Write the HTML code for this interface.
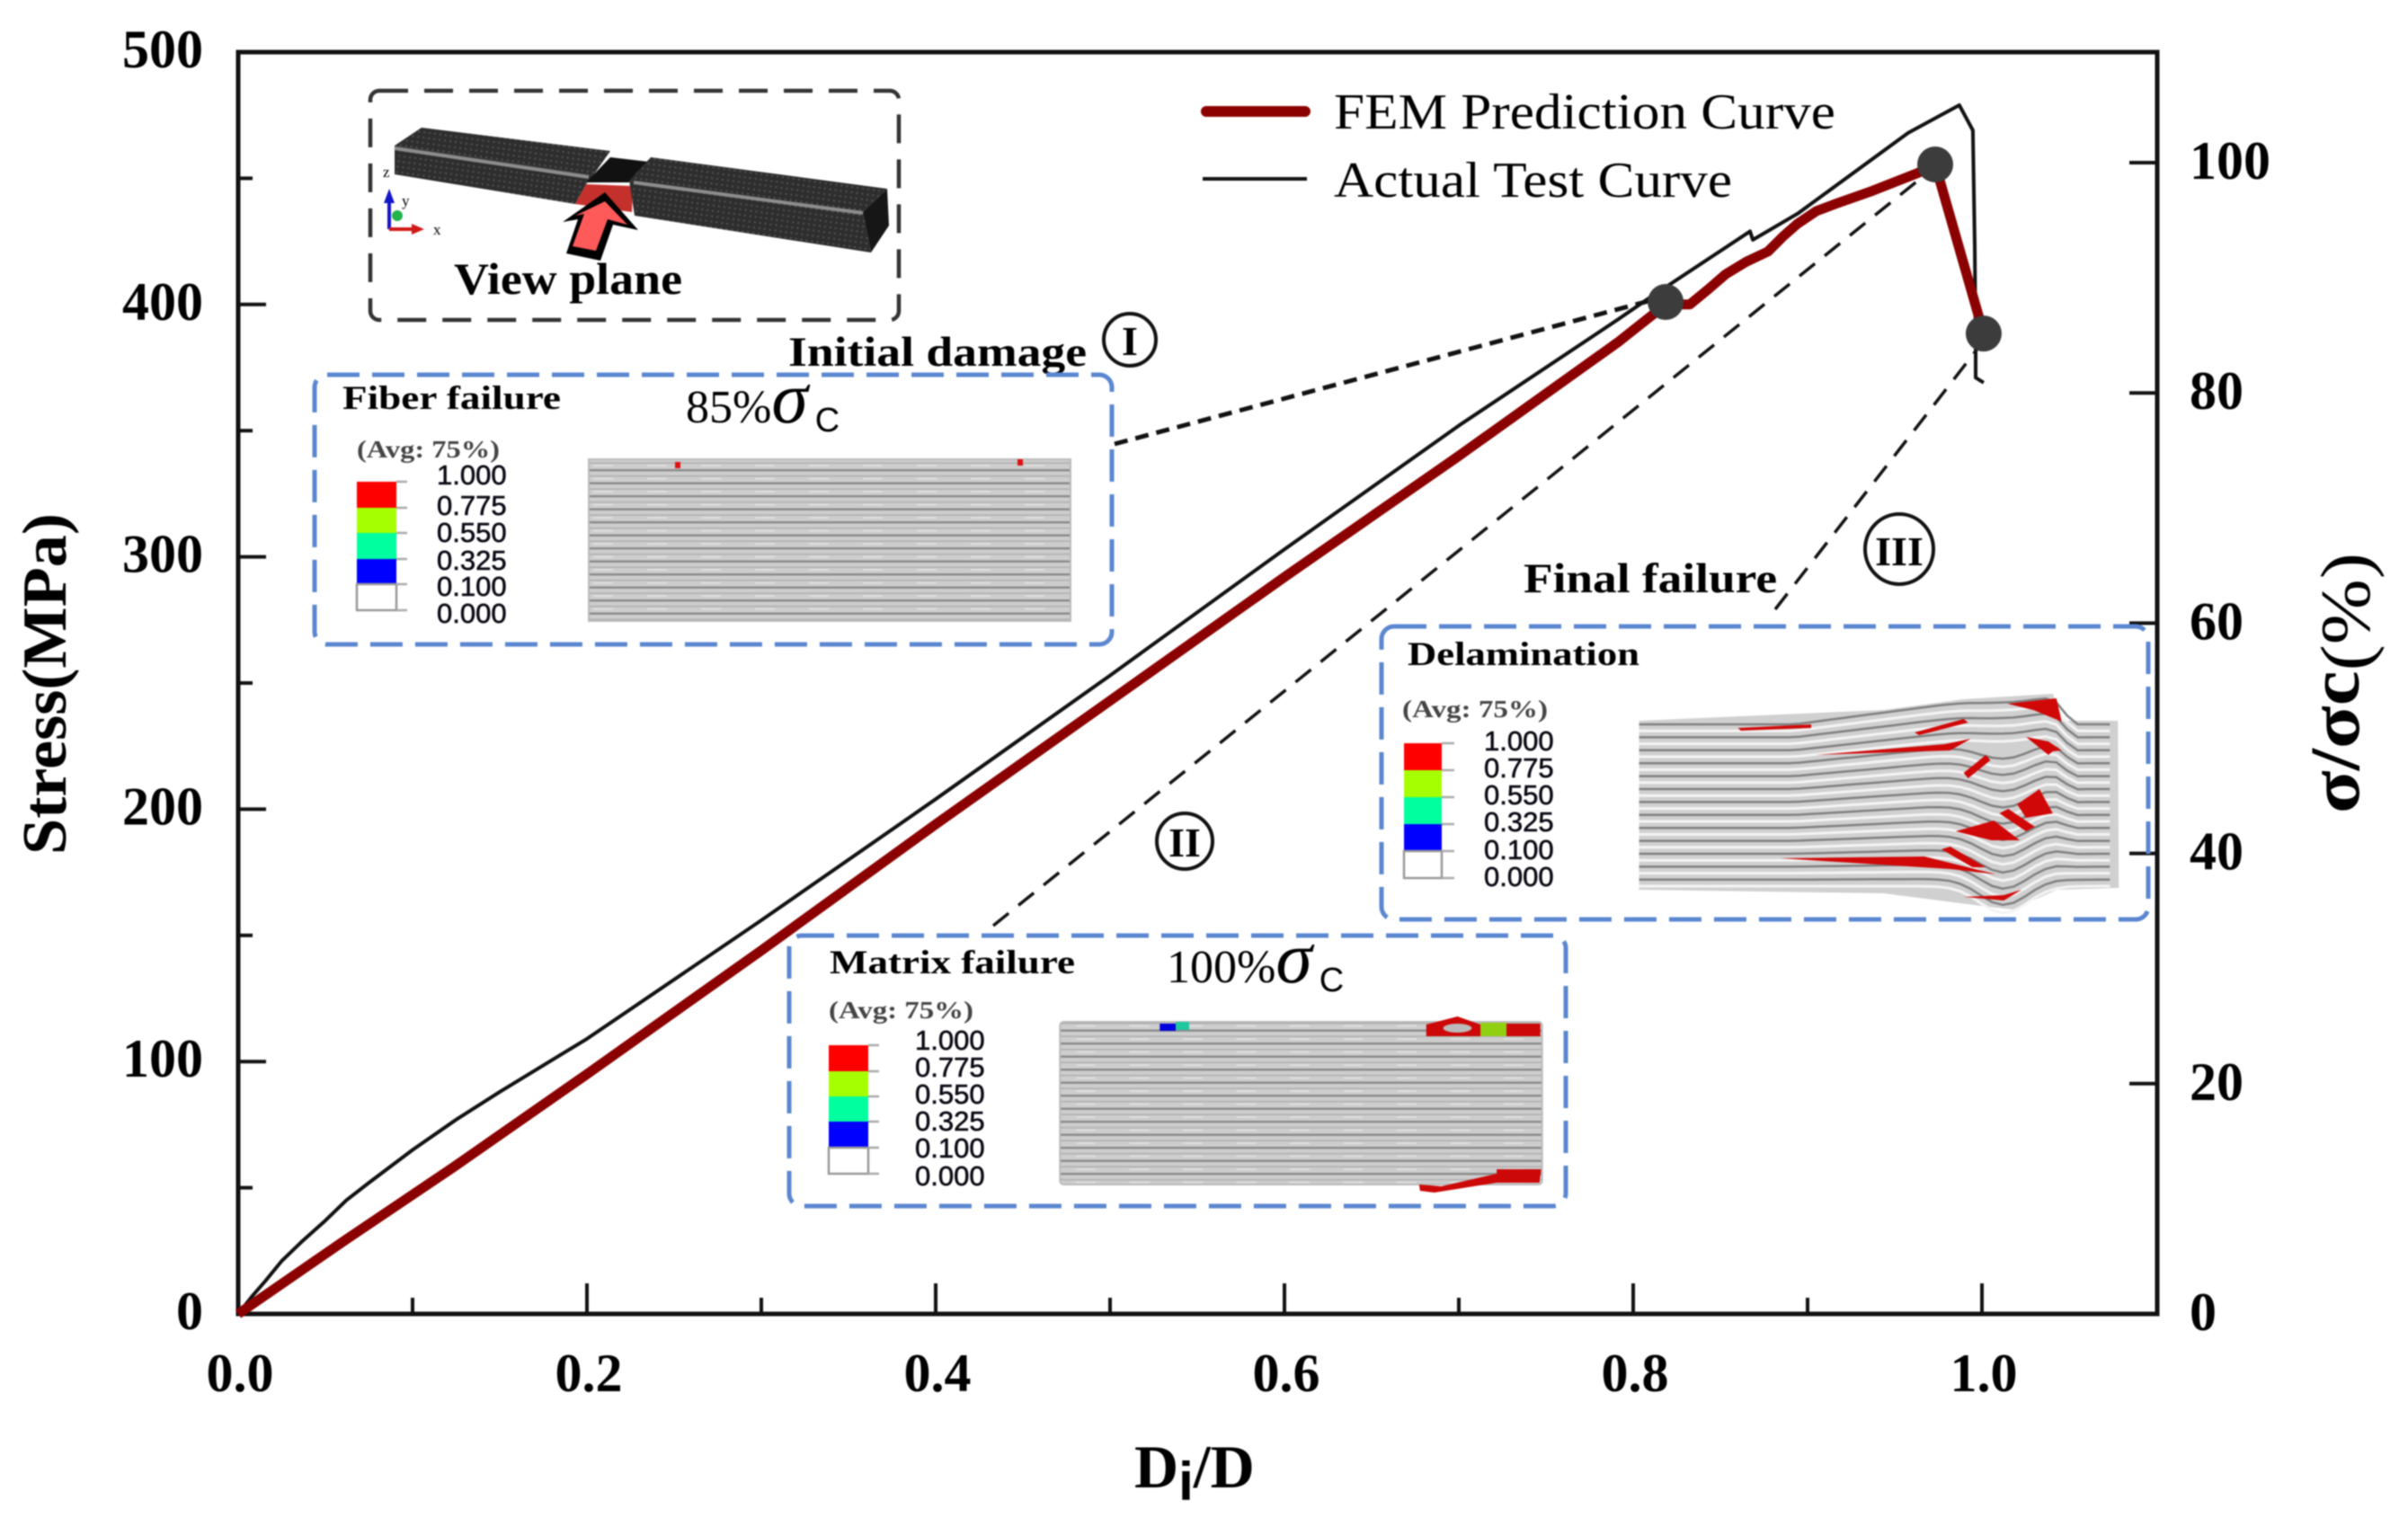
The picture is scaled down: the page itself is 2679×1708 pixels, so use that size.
<!DOCTYPE html>
<html lang="en">
<head>
<meta charset="utf-8">
<title>Stress vs Di/D chart</title>
<style>
html,body{margin:0;padding:0;background:#fff;width:2679px;height:1708px;overflow:hidden}
svg{display:block;filter:blur(0.7px)}
text{font-family:"Liberation Serif",serif;fill:#000}
.tl{font-weight:bold;font-size:60px}
.cap{font-weight:bold}
.sans{font-family:"Liberation Sans",sans-serif}
.num{font-family:"Liberation Sans",sans-serif;font-size:31px;fill:#0a0a14;stroke:#0a0a14;stroke-width:.6}
.avg{font-weight:bold;font-size:27px;fill:#444}
.box{fill:none;stroke:#5b86d0;stroke-width:5;stroke-dasharray:36 14}
.lead{fill:none;stroke:#111;stroke-width:3.5;stroke-dasharray:22 14}
</style>
</head>
<body>
<svg id="chart" xmlns="http://www.w3.org/2000/svg" width="2679" height="1708" viewBox="0 0 2679 1708">
<defs>
<pattern id="ply" patternUnits="userSpaceOnUse" width="60" height="14.5">
<rect width="60" height="14.5" fill="#cdcdcd"/>
<rect y="0" width="60" height="2.4" fill="#8a8a8a"/>
<rect y="7" width="60" height="1.4" fill="#adadad"/>
<rect y="10" width="22" height="1.2" fill="#e6e6e6"/>
</pattern>
<pattern id="mesh" patternUnits="userSpaceOnUse" width="6" height="6" patternTransform="rotate(8)">
<rect width="6" height="6" fill="#2e2e2e"/>
<circle cx="2" cy="2" r="1" fill="#5c5c5c"/>
</pattern>
</defs>
<rect width="2679" height="1708" fill="#fff"/>

<!-- view plane inset -->
<g>
<rect x="412" y="101" width="588" height="255" rx="10" fill="none" stroke="#333" stroke-width="4.5" stroke-dasharray="32 18"/>
<polygon points="439,162 469,142 679,168 660,195" fill="url(#mesh)"/>
<polygon points="439,162 660,195 652,205 640,227 439,194" fill="url(#mesh)"/>
<polygon points="679,175 722,180 700,203 652,203" fill="#111"/>
<polygon points="652,205 704,207 703,236 640,227" fill="#c4302c"/>
<polygon points="724,175 987,210 960,236 700,201" fill="url(#mesh)"/>
<polygon points="700,201 960,236 969,281 706,240" fill="url(#mesh)"/>
<polygon points="987,210 989,251 969,281 960,236" fill="#161616"/>
<line x1="439" y1="165" x2="655" y2="197" stroke="#8d8d8d" stroke-width="4"/>
<line x1="705" y1="203" x2="960" y2="237" stroke="#8d8d8d" stroke-width="4"/>
<polygon points="673,214 710,256 682,250 668,290 630,282 643,244 626,247" fill="#000"/>
<polygon points="673,224 698,250 676,244 663,279 637,274 650,238 640,240" fill="#ff5a5a"/>
<line x1="433" y1="255" x2="433" y2="222" stroke="#1414c8" stroke-width="4"/>
<polygon points="433,210 427,226 439,226" fill="#1414c8"/>
<line x1="433" y1="255" x2="462" y2="255" stroke="#d01818" stroke-width="4"/>
<polygon points="472,255 458,249 458,261" fill="#d01818"/>
<circle cx="442" cy="240" r="6" fill="#22b34c"/>
<text x="426" y="197" font-size="17" fill="#333">z</text>
<text x="447" y="229" font-size="17" fill="#333">y</text>
<text x="482" y="261" font-size="17" fill="#333">x</text>
<text class="cap" x="505" y="327" font-size="50" textLength="254" lengthAdjust="spacingAndGlyphs">View plane</text>
</g>

<!-- leader lines -->
<path class="lead" d="M1240,494 L1834,335" style="stroke-width:5;stroke-dasharray:15 9"/>
<path class="lead" d="M1105,1030 L2135,200"/>
<path class="lead" d="M1975,678 L2204,383"/>

<g id="axes"></g>
<g id="series"></g>

<!-- legend -->
<g>
<line x1="1342" y1="124" x2="1452" y2="124" stroke="#8b0000" stroke-width="12" stroke-linecap="round"/>
<text x="1484" y="143" font-size="56" textLength="558" lengthAdjust="spacingAndGlyphs">FEM Prediction Curve</text>
<line x1="1338" y1="199" x2="1454" y2="199" stroke="#111" stroke-width="4"/>
<text x="1484" y="219" font-size="56" textLength="443" lengthAdjust="spacingAndGlyphs">Actual Test Curve</text>
</g>

<!-- stage annotations -->
<text class="cap" x="877" y="407" font-size="47" textLength="332" lengthAdjust="spacingAndGlyphs">Initial damage</text>
<g>
<circle cx="1257" cy="378" r="29" fill="none" stroke="#111" stroke-width="4"/>
<text x="1257" y="395" font-size="46" text-anchor="middle" class="cap">I</text>
</g>
<text class="cap" x="1695" y="659" font-size="47" textLength="282" lengthAdjust="spacingAndGlyphs">Final failure</text>
<g>
<ellipse cx="2113" cy="611" rx="38" ry="39" fill="none" stroke="#111" stroke-width="4"/>
<text x="2113" y="629" font-size="46" text-anchor="middle" class="cap">III</text>
</g>
<g>
<circle cx="1318" cy="936" r="31" fill="none" stroke="#111" stroke-width="4"/>
<text x="1318" y="953" font-size="46" text-anchor="middle" class="cap">II</text>
</g>

<!-- fiber failure inset -->
<g>
<rect class="box" x="350" y="417" width="887" height="300" rx="14"/>
<text class="cap" x="381" y="455" font-size="37" textLength="243" lengthAdjust="spacingAndGlyphs">Fiber failure</text>
<text x="763" y="470" font-size="52">85%<tspan font-style="italic" font-size="82">σ</tspan><tspan class="sans" font-size="38" dx="8" dy="10">C</tspan></text>
<text class="avg" x="397" y="509" textLength="159" lengthAdjust="spacingAndGlyphs">(Avg: 75%)</text>
<g>
<rect x="397" y="536" width="44" height="29" fill="#ff0000"/><rect x="397" y="565" width="44" height="28" fill="#a6ff00"/><rect x="397" y="593" width="44" height="29" fill="#00ff9f"/><rect x="397" y="622" width="44" height="28" fill="#0000ff"/><rect x="397" y="650" width="44" height="29" fill="#fff" stroke="#999" stroke-width="2.5"/>
<path d="M441,536h12M441,565h12M441,593h12M441,622h12M441,650h12M441,679h12" stroke="#aaa" stroke-width="2.5"/>
<text class="num" x="486" y="539">1.000</text><text class="num" x="486" y="573">0.775</text><text class="num" x="486" y="603">0.550</text><text class="num" x="486" y="634">0.325</text><text class="num" x="486" y="663">0.100</text><text class="num" x="486" y="693">0.000</text>
</g>
<rect x="655" y="511" width="536" height="180" fill="url(#ply)" stroke="#bbb" stroke-width="2"/>
<rect x="751" y="514" width="6" height="7" fill="#e01010"/>
<rect x="1132" y="511" width="6" height="7" fill="#e01010"/>
</g>

<!-- matrix failure inset -->
<g>
<rect class="box" x="878" y="1041" width="864" height="301" rx="14"/>
<text class="cap" x="923" y="1083" font-size="37" textLength="273" lengthAdjust="spacingAndGlyphs">Matrix failure</text>
<text x="1298" y="1093" font-size="52">100%<tspan font-style="italic" font-size="82">σ</tspan><tspan class="sans" font-size="38" dx="8" dy="10">C</tspan></text>
<text class="avg" x="922" y="1133" textLength="161" lengthAdjust="spacingAndGlyphs">(Avg: 75%)</text>
<g>
<rect x="922" y="1163" width="44" height="29" fill="#ff0000"/><rect x="922" y="1192" width="44" height="28" fill="#a6ff00"/><rect x="922" y="1220" width="44" height="28" fill="#00ff9f"/><rect x="922" y="1248" width="44" height="29" fill="#0000ff"/><rect x="922" y="1277" width="44" height="29" fill="#fff" stroke="#999" stroke-width="2.5"/>
<path d="M966,1163h12M966,1192h12M966,1220h12M966,1248h12M966,1277h12M966,1306h12" stroke="#aaa" stroke-width="2.5"/>
<text class="num" x="1018" y="1168">1.000</text><text class="num" x="1018" y="1198">0.775</text><text class="num" x="1018" y="1228">0.550</text><text class="num" x="1018" y="1258">0.325</text><text class="num" x="1018" y="1288">0.100</text><text class="num" x="1018" y="1319">0.000</text>
</g>
<g transform="translate(860 0) scale(.9915 1) translate(-860 0)">
<rect x="1182" y="1137" width="541" height="181" rx="4" fill="url(#ply)" stroke="#bbb" stroke-width="2"/>
<rect x="1294" y="1139" width="18" height="8" fill="#0000e0"/>
<rect x="1312" y="1137" width="15" height="9" fill="#20c8a0"/>
<polygon points="1593,1140 1628,1131 1654,1140 1654,1153 1593,1153" fill="#cc0808"/>
<ellipse cx="1628" cy="1144" rx="16" ry="5" fill="#bbb"/>
<rect x="1654" y="1138" width="29" height="15" fill="#90d010"/>
<rect x="1683" y="1139" width="38" height="14" fill="#cc0808"/>
<polygon points="1585,1318 1610,1320 1672,1306 1672,1301 1722,1301 1720,1316 1672,1316 1602,1327 1586,1325" fill="#cc0808"/>
</g>
</g>

<!-- delamination inset -->
<g>
<rect class="box" x="1537" y="697" width="853" height="326" rx="14"/>
<text class="cap" x="1566" y="740" font-size="37" textLength="258" lengthAdjust="spacingAndGlyphs">Delamination</text>
<text class="avg" x="1560" y="798" textLength="162" lengthAdjust="spacingAndGlyphs">(Avg: 75%)</text>
<g>
<rect x="1562" y="827" width="42" height="30" fill="#ff0000"/><rect x="1562" y="857" width="42" height="30" fill="#a6ff00"/><rect x="1562" y="887" width="42" height="30" fill="#00ff9f"/><rect x="1562" y="917" width="42" height="30" fill="#0000ff"/><rect x="1562" y="947" width="42" height="30" fill="#fff" stroke="#999" stroke-width="2.5"/>
<path d="M1604,827h14M1604,857h14M1604,887h14M1604,917h14M1604,947h14M1604,977h14" stroke="#aaa" stroke-width="2.5"/>
<text class="num" x="1651" y="835">1.000</text><text class="num" x="1651" y="865">0.775</text><text class="num" x="1651" y="895">0.550</text><text class="num" x="1651" y="925">0.325</text><text class="num" x="1651" y="956">0.100</text><text class="num" x="1651" y="986">0.000</text>
</g>
<g transform="translate(1520 0) scale(.992 1) translate(-1520 0)">
<path d="M1826,802 L2100,790 L2190,778 L2290,772 L2300,802 L2363,802 L2364,988 L2295,990 L2245,1012 L2210,1008 L2100,994 L1826,990 Z" fill="#d0d0d0"/>
<g id="delam-plies"></g>
<g fill="#d00808">
<polygon points="2239,783 2294,777 2300,803 2268,790"/>
<polygon points="2024,840 2169,828 2198,822 2175,835"/>
<polygon points="1984,955 2146,953 2227,973 2245,975 2175,967"/>
<polygon points="2181,925 2224,913 2253,935 2221,935"/>
<polygon points="1937,810 2019,806 2019,810 1940,813"/>
<polygon points="2135,815 2190,800 2195,804 2140,818"/>
<polygon points="2260,820 2285,840 2290,836 2300,835 2285,825"/>
<polygon points="2190,860 2215,840 2220,846 2195,866"/>
<polygon points="2250,895 2275,878 2290,905 2260,910"/>
<polygon points="2230,905 2260,925 2270,920 2240,900"/>
<polygon points="2165,945 2200,965 2215,965 2175,942"/>
<polygon points="2190,998 2235,1002 2255,990 2235,996"/>
</g>
</g>
</g>
</svg>
<script>
/* chart data */
var xTickValues = [0, 0.2, 0.4, 0.6, 0.8, 1.0];
var xMinorValues = [0.1, 0.3, 0.5, 0.7, 0.9];
var xTickLabels = ["0.0", "0.2", "0.4", "0.6", "0.8", "1.0"];
var stressTicks = [0, 100, 200, 300, 400, 500];
var stressMinor = [50, 150, 250, 350, 450];
var percentTicks = [0, 20, 40, 60, 80, 100];
var femX = [0, 0.0608, 0.1232, 0.2, 0.3, 0.4, 0.5, 0.6, 0.7, 0.7912, 0.8186, 0.8325, 0.843, 0.8531, 0.865, 0.8773, 0.886, 0.8943, 0.905, 0.9165, 0.9371, 0.9629, 0.9732, 1.001];
var femStress = [0, 29, 58, 95, 144, 194, 243, 292, 340, 385, 400, 400, 406, 412, 417, 421, 427, 432, 437, 440, 445, 452, 455.5, 388.5];
var testX = [0, 0.008, 0.0155, 0.025, 0.037, 0.05, 0.062, 0.075, 0.1, 0.125, 0.15, 0.2, 0.3, 0.4, 0.5, 0.6, 0.7, 0.7912, 0.808, 0.867, 0.8686, 0.8943, 0.9577, 0.987, 0.9948, 0.9959, 0.9964, 0.9964, 1.001];
var testStress = [0, 7, 13, 21, 29, 37, 45, 52, 65, 77, 88, 109, 156, 204, 253, 303, 352, 394, 402, 429, 425.6, 436, 468, 479, 469, 423, 382, 371, 369];
var stageX = [0.8186, 0.9732, 1.001];
var stageStress = [401, 455.5, 388.5];

var NS = "http://www.w3.org/2000/svg";
var plotLeft = 265, plotRight = 2400, plotTop = 58, plotBottom = 1462;
function xPos(v) { return plotLeft + v * 1940; }
function yStress(v) { return plotBottom - v * 2.808; }
function yPercent(v) { return plotBottom - v * 12.81; }
function mk(tag, attrs, parent) {
  var e = document.createElementNS(NS, tag);
  for (var k in attrs) e.setAttribute(k, attrs[k]);
  parent.appendChild(e);
  return e;
}
var axes = document.getElementById("axes");
var series = document.getElementById("series");

var frame = mk("rect", {x: plotLeft, y: plotTop, width: plotRight - plotLeft, height: plotBottom - plotTop, fill: "none", stroke: "#111", "stroke-width": 5}, axes);



xTickValues.forEach(function (v, i) {
  var t = mk("line", {x1: xPos(v), x2: xPos(v), y1: plotBottom, y2: plotBottom - 34, stroke: "#111", "stroke-width": 4}, axes);
  
  
  var l = mk("text", {x: xPos(v) + 2, y: 1548, "text-anchor": "middle", "class": "tl"}, axes);
  l.textContent = xTickLabels[i];
  
  
});
xMinorValues.forEach(function (v) {
  var t = mk("line", {x1: xPos(v), x2: xPos(v), y1: plotBottom, y2: plotBottom - 18, stroke: "#111", "stroke-width": 4}, axes);
  
  
});
stressTicks.forEach(function (v) {
  var y = yStress(v);
  var t = mk("line", {x1: plotLeft, x2: plotLeft + 31, y1: y, y2: y, stroke: "#111", "stroke-width": 4}, axes);
  
  
  var l = mk("text", {x: 226, y: y + 17, "text-anchor": "end", "class": "tl"}, axes);
  l.textContent = String(v);
  
  
});
stressMinor.forEach(function (v) {
  var y = yStress(v);
  var t = mk("line", {x1: plotLeft, x2: plotLeft + 16, y1: y, y2: y, stroke: "#111", "stroke-width": 4}, axes);
  
  
});
percentTicks.forEach(function (v) {
  var y = yPercent(v);
  var t = mk("line", {x1: plotRight, x2: plotRight - 31, y1: y, y2: y, stroke: "#111", "stroke-width": 4}, axes);
  
  
  var l = mk("text", {x: 2436, y: y + 18, "class": "tl"}, axes);
  l.textContent = String(v);
  
  
});

var yTitle = mk("text", {transform: "translate(73,761) rotate(-90)", "text-anchor": "middle", "font-size": 70, "font-weight": "bold", textLength: 380, lengthAdjust: "spacingAndGlyphs"}, axes);
yTitle.textContent = "Stress(MPa)";



var rTitle = mk("text", {transform: "translate(2624,905) rotate(-90)", "font-size": 78, "font-weight": "bold", textLength: 290, lengthAdjust: "spacingAndGlyphs"}, axes);
rTitle.innerHTML = 'σ/σc<tspan dy="12" font-weight="normal">(%)</tspan>';



var xTitle = mk("text", {x: 1262, y: 1655, "font-size": 68, "font-weight": "bold"}, axes);


xTitle.innerHTML = 'D<tspan dy="14" font-size="60" font-family="Liberation Sans">i</tspan><tspan dy="-14">/D</tspan>';

function pts(xs, ys) {
  return xs.map(function (x, i) { return xPos(x).toFixed(1) + "," + yStress(ys[i]).toFixed(1); }).join(" ");
}
var testLine = mk("polyline", {points: pts(testX, testStress), fill: "none", stroke: "#111", "stroke-width": 4, "stroke-linejoin": "round"}, series);


var femLine = mk("polyline", {points: pts(femX, femStress), fill: "none", stroke: "#8b0000", "stroke-width": 11, "stroke-linejoin": "round"}, series);


stageX.forEach(function (x, i) {
  var c = mk("circle", {cx: xPos(x), cy: yStress(stageStress[i]), r: 20, fill: "#3c3c3c"}, series);
  
  
});

/* deformed ply lines in the delamination contour */
var plies = document.getElementById("delam-plies");
for (var n = 0; n < 26; n++) {
  var d = "";
  var f = n / 25;
  for (var px = 1826; px <= 2364; px += 12) {
    var upper = 1 - f;
    var t1 = (px - 2000) / 230;
    var rise = px > 2000 ? Math.min(1, t1) * (upper * 30 + 0) : 0;
    var kink = Math.exp(-Math.pow((px - 2235) / 38, 2)) * (14 + 16 * f);
    var drop = px > 2290 ? Math.min(1, (px - 2290) / 24) * (upper * 30) : 0;
    var py = 806 + f * 180 - rise + kink * (f > 0.2 ? 1 : 0.4) + drop;
    d += (d ? "L" : "M") + px + "," + py.toFixed(1);
  }
  var ply = mk("path", {d: d, fill: "none", stroke: n % 2 ? "#f4f4f4" : "#808080", "stroke-width": n % 2 ? 3 : 2.5}, plies);
  
  
}
</script>
</body>
</html>
